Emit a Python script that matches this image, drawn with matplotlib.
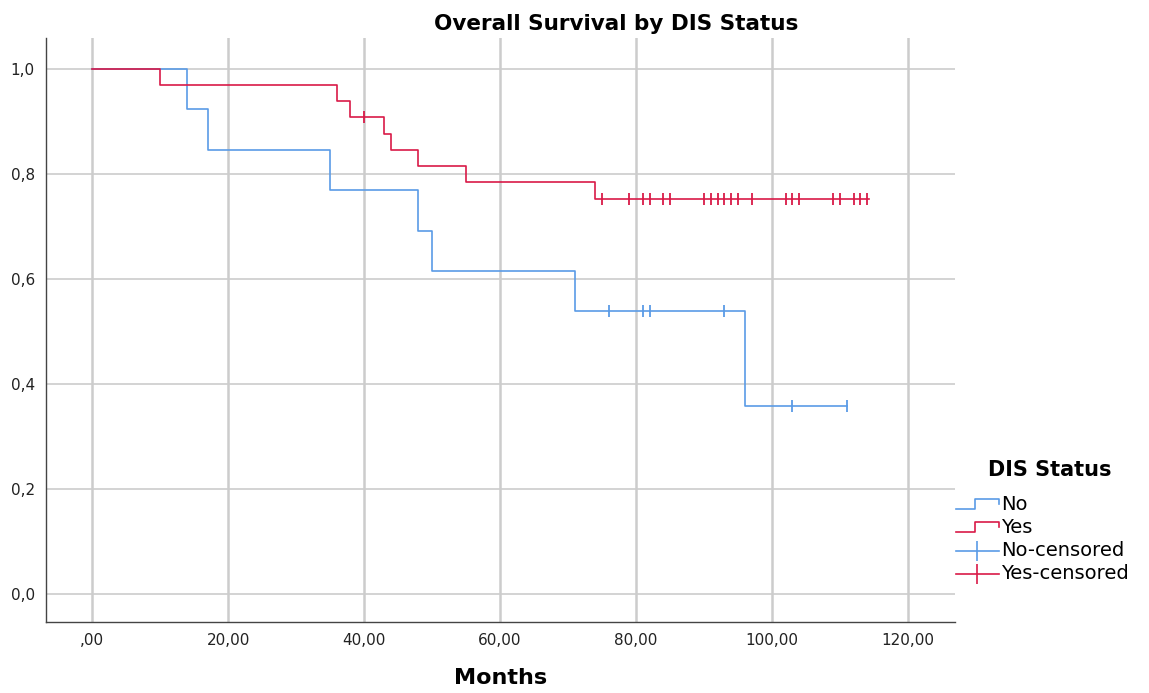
import numpy as np
import matplotlib
matplotlib.use("Agg")
import matplotlib.pyplot as plt
from matplotlib.lines import Line2D
from matplotlib.legend_handler import HandlerBase


# Kaplan-Meier curves (months, survival)
no_times = [0, 14, 17, 35, 48, 50, 71, 96, 111]
no_surv = [1.0, 0.923, 0.846, 0.769, 0.692, 0.615, 0.538, 0.359, 0.359]
no_cens_t = [76, 81, 82, 93, 103, 111]
no_cens_s = [0.538, 0.538, 0.538, 0.538, 0.359, 0.359]

yes_times = [0, 10, 36, 38, 43, 44, 48, 55, 74, 114.3]
yes_surv = [1.0, 0.970, 0.939, 0.909, 0.876, 0.846, 0.815, 0.784, 0.752, 0.752]
yes_cens_t = [40, 75, 79, 81, 82, 84, 85, 90, 91, 92, 93, 94, 95, 97,
              102, 103, 104, 109, 110, 112, 113, 114]
yes_cens_s = [0.909] + [0.752] * 21

x_ticks = [0, 20, 40, 60, 80, 100, 120]
x_labels = [",00", "20,00", "40,00", "60,00", "80,00", "100,00", "120,00"]
y_ticks = [0.0, 0.2, 0.4, 0.6, 0.8, 1.0]
y_labels = ["0,0", "0,2", "0,4", "0,6", "0,8", "1,0"]

BLUE = "#5a9be6"
RED = "#d91a48"
GRID = "#cccccc"

plt.rcParams["font.family"] = ["DejaVu Sans"]


class StepHandler(HandlerBase):
    # small step icon like the SPSS legend
    def create_artists(self, legend, orig, xd, yd, w, h, fontsize, trans):
        xs = [xd, xd + 0.45 * w, xd + 0.45 * w, xd + w, xd + w]
        ys = [yd + 0.1 * h, yd + 0.1 * h, yd + 0.85 * h, yd + 0.85 * h, yd + 0.45 * h]
        ln = Line2D(xs, ys, color=orig.get_color(), lw=orig.get_linewidth(), transform=trans)
        return [ln]


class CrossHandler(HandlerBase):
    def create_artists(self, legend, orig, xd, yd, w, h, fontsize, trans):
        ln = Line2D([xd, xd + w], [yd + 0.4 * h] * 2, color=orig.get_color(), lw=1.2, transform=trans)
        mk = Line2D([xd + 0.5 * w], [yd + 0.4 * h], color=orig.get_color(), marker="|",
                    markersize=14, mew=1.2, linestyle="None", transform=trans)
        return [ln, mk]


fig = plt.figure(figsize=(11.49, 6.93), dpi=100)
ax = fig.add_axes([0.040, 0.1025, 0.791, 0.843])

ax.step(no_times, no_surv, where="post", color=BLUE, lw=1.2)
ax.step(yes_times, yes_surv, where="post", color=RED, lw=1.2)
ax.plot(no_cens_t, no_cens_s, linestyle="None", marker="|", markersize=9, mew=1.3, color=BLUE)
ax.plot(yes_cens_t, yes_cens_s, linestyle="None", marker="|", markersize=9, mew=1.3, color=RED)

ax.set_xlim(-6.8, 126.9)
ax.set_ylim(-0.053, 1.059)
ax.set_xticks(x_ticks)
ax.set_xticklabels(x_labels, fontsize=11, color="#222222")
ax.set_yticks(y_ticks)
ax.set_yticklabels(y_labels, fontsize=11, color="#222222")
ax.tick_params(length=0, pad=8)

ax.grid(True, axis="x", color=GRID, lw=1.8)
ax.grid(True, axis="y", color=GRID, lw=1.2)
ax.set_axisbelow(True)
for s in ["top", "right"]:
    ax.spines[s].set_visible(False)
for s in ["left", "bottom"]:
    ax.spines[s].set_color("#444444")
    ax.spines[s].set_linewidth(1.0)

ax.set_xlabel("Months", fontsize=16, fontweight="bold", labelpad=14)
fig.text(0.536, 0.966, "Overall Survival by DIS Status", ha="center", va="center",
         fontsize=15.5, fontweight="bold")

# legend title drawn on its own so the gap to the entries matches
fig.text(0.914, 0.322, "DIS Status", ha="center", va="center", fontsize=15, fontweight="bold")

h_no = Line2D([], [], color=BLUE, lw=1.2)
h_yes = Line2D([], [], color=RED, lw=1.2)
h_noc = Line2D([], [], color=BLUE, lw=1.2)
h_yesc = Line2D([], [], color=RED, lw=1.2)
leg = fig.legend([h_no, h_yes, h_noc, h_yesc], ["No", "Yes", "No-censored", "Yes-censored"],
                 handler_map={h_no: StepHandler(), h_yes: StepHandler(),
                              h_noc: CrossHandler(), h_yesc: CrossHandler()},
                 loc="upper left", bbox_to_anchor=(0.832, 0.285), frameon=False,
                 fontsize=14, handlelength=2.2, handletextpad=0.1,
                 labelspacing=0.2, borderaxespad=0, borderpad=0)

fig.savefig("out.png", dpi=100)
